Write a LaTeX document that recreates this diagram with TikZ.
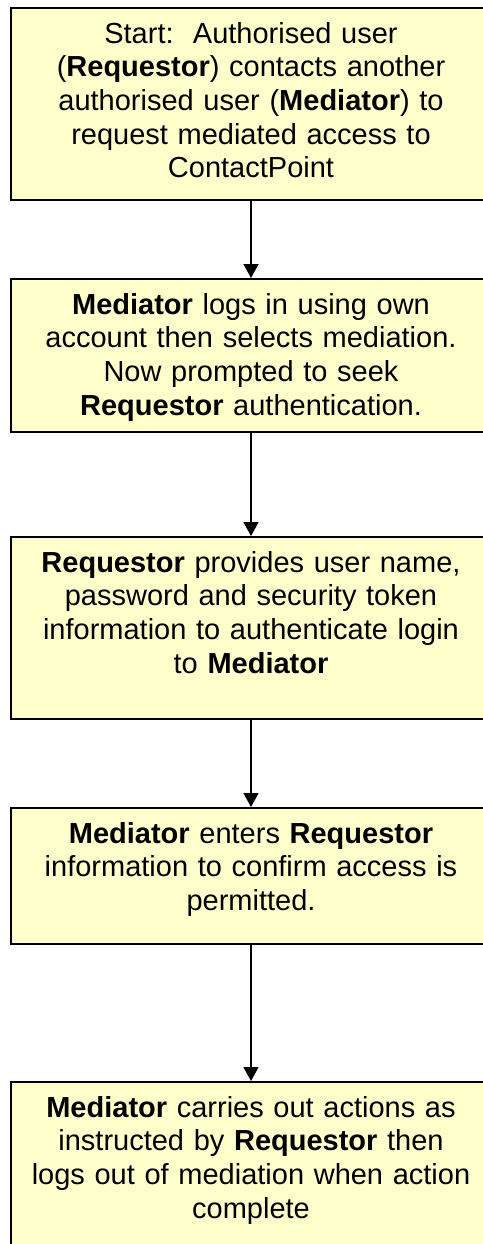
\documentclass[tikz,border=0pt]{standalone}
\usepackage{fontspec}
\setmainfont{Liberation Sans}
\usetikzlibrary{arrows.meta}
\definecolor{boxyellow}{HTML}{FFFFCC}
\tikzset{
  stepbox/.style={draw=black, line width=2pt, fill=boxyellow, minimum width=480pt, inner sep=0pt, anchor=north west, rectangle},
  steptext/.style={anchor=north, inner sep=0pt, text width=470pt, align=center, font=\fontsize{29}{33.7}\selectfont},
  flowarrow/.style={draw=black, line width=1.5pt, -{Triangle[width=15pt,length=14pt]}}
}
\begin{document}
\begin{tikzpicture}[x=1pt,y=-1pt]
\useasboundingbox (0,0) rectangle (482,1244);
\node[stepbox, minimum height=192pt] (b1) at (10,7) {};
\node[stepbox, minimum height=153pt] (b2) at (10,278) {};
\node[stepbox, minimum height=182pt] (b3) at (10,536) {};
\node[stepbox, minimum height=136pt] (b4) at (10,807) {};
\node[stepbox, minimum height=190pt] (b5) at (10,1081) {};

\node[steptext] (t1) at ([yshift=-12.4pt]b1.north) {\strut Start:\ \ Authorised user\\(\textbf{Requestor}) contacts another\\authorised user (\textbf{Mediator}) to\\request mediated access to\\ContactPoint};
\node[steptext] (t2) at ([yshift=-12.4pt]b2.north) {\strut\textbf{Mediator} logs in using own\\account then selects mediation.\\Now prompted to seek\\\textbf{Requestor} authentication.};
\node[steptext] (t3) at ([yshift=-12.4pt]b3.north) {\strut\textbf{Requestor} provides user name,\\password and security token\\information to authenticate login\\to \textbf{Mediator}};
\node[steptext] (t4) at ([yshift=-12.4pt]b4.north) {\strut\textbf{Mediator} enters \textbf{Requestor}\\information to confirm access is\\permitted.};
\node[steptext] (t5) at ([yshift=-12.4pt]b5.north) {\strut\textbf{Mediator} carries out actions as\\instructed by \textbf{Requestor} then\\logs out of mediation when action\\complete};

\draw[flowarrow] (b1.south) -- (b2.north);
\draw[flowarrow] (b2.south) -- (b3.north);
\draw[flowarrow] (b3.south) -- (b4.north);
\draw[flowarrow] (b4.south) -- (b5.north);
\end{tikzpicture}
\end{document}
